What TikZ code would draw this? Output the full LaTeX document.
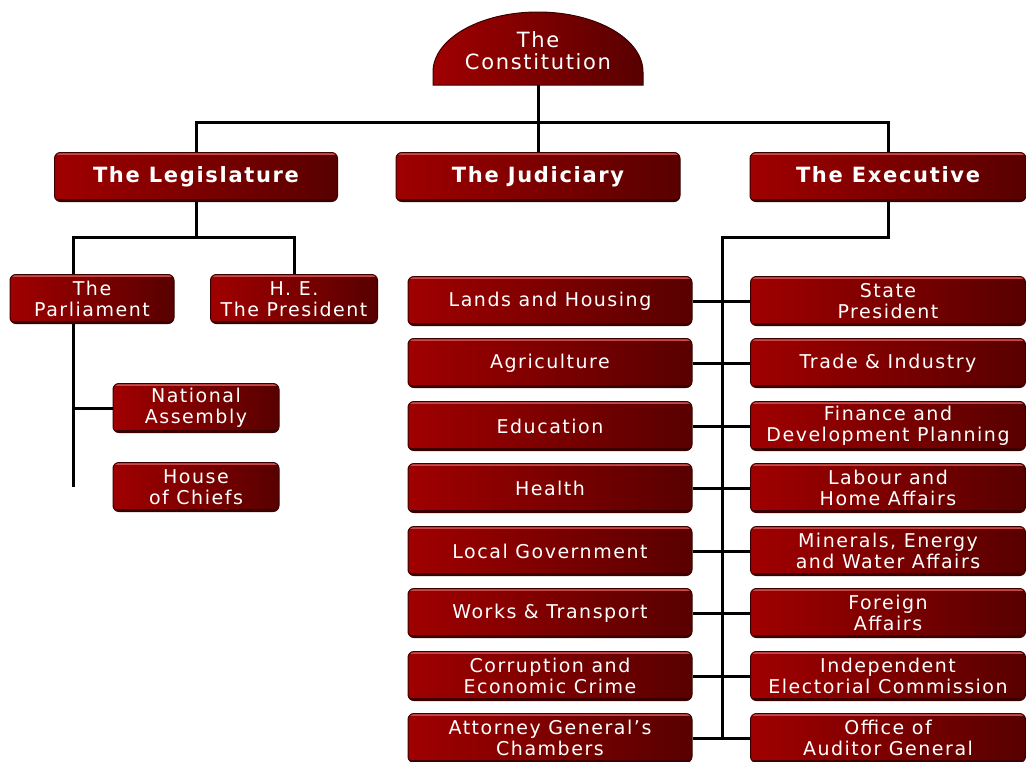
\documentclass[tikz,border=0pt]{standalone}
\usepackage{fontspec}
\setmainfont{DejaVu Sans}[LetterSpace=8]
\definecolor{boxl}{HTML}{A00000}
\definecolor{boxr}{HTML}{580000}
\definecolor{boxd}{HTML}{3A0000}
\definecolor{boxh}{HTML}{C84848}

\begin{document}
\begin{tikzpicture}
[x=1pt,y=-1pt,%
  every node/.style={text=white,align=center,font=\fontsize{19}{21}\selectfont},%
  box/.style={shape=rectangle,rounded corners=6pt,left color=boxl,right color=boxr,
    draw=boxd,line width=1pt,minimum height=49pt,inner sep=0pt,
    path picture={\draw[boxh,line width=4pt] (path picture bounding box.north west) -- (path picture bounding box.north east);
      \draw[boxd,line width=5pt] (path picture bounding box.south west) -- (path picture bounding box.south east);}},%
  head/.style={box,text height=15pt,text depth=5pt,font=\bfseries\fontsize{21}{24}\selectfont},%
  conn/.style={-,line width=3pt,black}]
\useasboundingbox (0,0) rectangle (1026,761);
% dome
\shade[left color=boxl,right color=boxr,draw=boxd,line width=1pt]
  (433,85) -- (433,72) arc[start angle=180,end angle=0,x radius=105pt,y radius=60pt] -- (643,85) -- cycle;
\node[minimum width=210pt,minimum height=68pt,inner sep=0pt,font=\fontsize{21}{22}\selectfont] (con) at (538,51) {The\\Constitution};
% three arms
\node[head,minimum width=283pt] (leg) at (196,177) {The Legislature};
\node[head,minimum width=284pt] (jud) at (538,177) {The Judiciary};
\node[head,minimum width=276pt] (exe) at (888,177) {The Executive};
\coordinate (hub) at (538,122);
\draw[conn] (con) -- (jud);
\draw[conn] (leg.north) |- (hub) -| (exe.north);
% legislature
\node[box,minimum width=164pt] (par) at (92,299) {The\\Parliament};
\node[box,minimum width=167pt] (hep) at (294,299) {H. E.\\The President};
\node[box,minimum width=166pt] (nat) at (196,408) {National\\Assembly};
\node[box,minimum width=166pt] (hoc) at (196,487) {House\\of Chiefs};
\draw[conn] (leg.south) -- ++(0,35) coordinate (lsplit);
\coordinate (pstem) at ([xshift=-19pt]par.south);
\draw[conn] ([xshift=-19pt]par.north) |- (lsplit) -| (hep.north);
\draw[conn] (pstem) |- (nat.west);
\draw[conn] (pstem) -- (pstem |- hoc.west);
% ministries
\foreach \i/\y/\lt/\rt in {%
  1/301/{Lands and Housing}/{State\\President},
  2/363/{Agriculture}/{Trade \& Industry},
  3/426/{Education}/{Finance and\\Development Planning},
  4/488/{Health}/{Labour and\\Home Affairs},
  5/551/{Local Government}/{Minerals, Energy\\and Water Affairs},
  6/613/{Works \& Transport}/{Foreign\\Affairs},
  7/676/{Corruption and\\Economic Crime}/{Independent\\Electorial Commission},
  8/738/{Attorney General's\\Chambers}/{Office of\\Auditor General}}
{
  \node[box,minimum width=284pt] (l\i) at (550,\y) {\lt};
  \node[box,minimum width=275pt] (r\i) at (888,\y) {\rt};
}
\coordinate (trunk) at (722,740);
\draw[conn] (exe.south) -- ++(0,35) -| (trunk);
\foreach \i in {1,...,8}
  \draw[conn] (l\i.east) -- (r\i.west);
\end{tikzpicture}
\end{document}
